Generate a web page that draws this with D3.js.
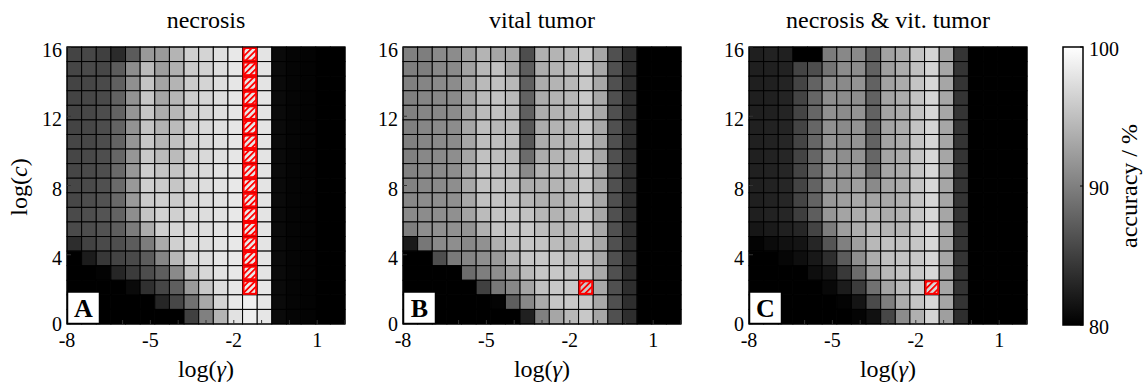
<!DOCTYPE html>
<html>
<head>
<meta charset="utf-8">
<script src="https://cdn.jsdelivr.net/npm/d3@7"></script>
<style>
  body { margin: 0; background: #fff; }
  svg, text { font-family: "Liberation Serif", "DejaVu Serif", "Times New Roman", serif; }
  text { fill: #000; }
</style>
</head>
<body>
<svg id="chart" width="1146" height="386" font-family="Liberation Serif, DejaVu Serif, serif"></svg>
<script>
// grid: 19 columns of log(gamma) x 19 rows of log(c), rows listed top (c=16) to bottom (c=0)
const gammaDomain = [-8, 2];
const cDomain = [0, 16];
const gammaTicks = [-8, -5, -2, 1];
const cTicks = [0, 4, 8, 12, 16];
const colorTicks = [80, 90, 100];
const panelTitles = ["necrosis", "vital tumor", "necrosis & vit. tumor"];
const panelLetters = ["A", "B", "C"];

// accuracy / %
const necrosisAcc = [
  [85.3, 85.6, 85.0, 83.4, 87.1, 92.0, 92.1, 94.1, 96.2, 96.6, 97.6, 98.2, 98.2, 97.9, 80.8, 80.4, 80.2, 80.0, 80.0],
  [85.5, 85.8, 85.6, 87.2, 91.1, 94.7, 92.4, 93.8, 95.9, 96.5, 97.3, 98.0, 98.0, 97.9, 80.8, 80.4, 80.2, 80.0, 80.0],
  [85.3, 85.5, 85.8, 87.5, 91.3, 95.4, 92.9, 94.1, 96.0, 96.6, 97.4, 98.0, 98.0, 97.9, 80.8, 80.4, 80.2, 80.0, 80.0],
  [85.3, 85.6, 85.8, 87.7, 91.5, 95.5, 93.0, 94.3, 96.1, 96.8, 97.4, 98.0, 98.0, 97.9, 80.8, 80.4, 80.2, 80.0, 80.0],
  [85.3, 85.6, 86.0, 87.8, 91.7, 95.5, 93.5, 94.4, 96.2, 96.8, 97.5, 98.0, 98.0, 97.9, 80.8, 80.4, 80.2, 80.0, 80.0],
  [85.3, 85.6, 86.0, 87.8, 91.5, 95.4, 94.0, 94.7, 96.3, 97.0, 97.6, 98.0, 98.0, 97.9, 80.8, 80.4, 80.2, 80.0, 80.0],
  [85.5, 85.6, 86.0, 87.8, 91.7, 95.7, 94.3, 95.1, 96.5, 97.0, 97.6, 98.0, 98.0, 97.9, 80.8, 80.4, 80.2, 80.0, 80.0],
  [85.5, 85.7, 86.1, 88.0, 91.8, 95.7, 94.7, 94.7, 96.5, 97.0, 97.6, 98.0, 98.0, 97.9, 80.8, 80.4, 80.2, 80.0, 80.0],
  [85.5, 85.8, 86.1, 88.2, 91.9, 96.1, 95.4, 95.4, 96.6, 97.1, 97.7, 98.0, 98.0, 97.9, 80.8, 80.4, 80.2, 80.0, 80.0],
  [85.6, 85.8, 86.3, 88.3, 92.0, 96.2, 95.9, 95.5, 96.8, 97.3, 97.7, 98.2, 98.2, 97.9, 80.8, 80.4, 80.2, 80.0, 80.0],
  [85.6, 86.0, 86.4, 88.2, 92.1, 95.9, 96.3, 95.9, 96.9, 97.3, 97.7, 98.2, 98.2, 97.9, 80.8, 80.4, 80.2, 80.0, 80.0],
  [85.8, 86.1, 86.6, 87.8, 91.1, 95.4, 96.5, 96.3, 97.1, 97.3, 97.7, 98.2, 98.2, 97.9, 80.8, 80.4, 80.2, 80.0, 80.0],
  [85.8, 86.0, 86.4, 87.4, 89.7, 93.5, 96.2, 96.8, 97.1, 97.4, 97.9, 98.2, 98.2, 97.9, 80.8, 80.4, 80.2, 80.0, 80.0],
  [83.5, 85.2, 85.8, 86.1, 87.2, 89.7, 93.3, 96.3, 97.1, 97.4, 97.9, 98.2, 98.2, 97.9, 80.8, 80.4, 80.2, 80.0, 80.0],
  [80.0, 82.2, 84.4, 85.3, 85.8, 87.2, 90.5, 94.4, 96.8, 97.4, 98.0, 98.2, 98.2, 97.9, 80.8, 80.4, 80.2, 80.0, 80.0],
  [80.0, 80.0, 80.2, 83.0, 84.6, 86.0, 87.4, 90.8, 95.1, 96.9, 97.7, 98.2, 98.2, 97.9, 80.8, 80.4, 80.2, 80.0, 80.0],
  [80.0, 80.0, 80.0, 80.0, 80.8, 83.8, 85.5, 87.4, 92.1, 95.7, 97.3, 98.0, 98.5, 98.0, 80.8, 80.4, 80.2, 80.0, 80.0],
  [80.0, 80.0, 80.0, 80.0, 80.0, 80.0, 83.0, 85.6, 88.8, 93.2, 96.6, 98.2, 98.8, 98.0, 80.8, 80.4, 80.2, 80.0, 80.0],
  [80.0, 80.0, 80.0, 80.0, 80.0, 80.0, 80.0, 80.0, 85.0, 90.0, 94.1, 97.7, 98.7, 98.0, 80.8, 80.4, 80.2, 80.0, 80.0]
];

// panel B
const vitalAcc = [
  [90.0, 89.9, 90.8, 91.0, 92.5, 94.1, 93.0, 93.2, 86.1, 93.8, 94.1, 94.4, 95.8, 93.0, 86.3, 83.6, 80.0, 80.0, 80.0],
  [89.9, 89.9, 90.7, 90.8, 92.7, 94.4, 95.1, 93.2, 87.4, 93.6, 94.1, 94.7, 95.7, 93.2, 86.3, 83.6, 80.0, 80.0, 80.0],
  [90.0, 90.4, 90.8, 91.0, 92.9, 94.6, 95.1, 94.4, 87.5, 93.6, 94.1, 94.4, 95.7, 93.2, 86.3, 83.6, 80.0, 80.0, 80.0],
  [90.0, 90.4, 90.7, 90.8, 92.9, 94.6, 95.2, 94.6, 87.7, 93.5, 94.0, 94.4, 95.7, 93.2, 86.3, 83.6, 80.0, 80.0, 80.0],
  [90.0, 90.5, 90.7, 91.0, 93.0, 94.7, 95.1, 94.7, 87.5, 93.5, 94.0, 94.4, 95.7, 93.2, 86.3, 83.6, 80.0, 80.0, 80.0],
  [90.0, 90.5, 90.8, 91.0, 93.0, 94.9, 94.4, 94.7, 86.9, 93.5, 94.0, 94.3, 95.7, 93.2, 86.3, 83.6, 80.0, 80.0, 80.0],
  [90.0, 90.5, 90.8, 91.0, 93.0, 94.9, 94.9, 94.7, 86.9, 93.6, 94.1, 94.4, 95.7, 93.2, 86.3, 83.6, 80.0, 80.0, 80.0],
  [90.0, 90.7, 90.8, 91.1, 93.0, 95.1, 94.9, 94.7, 88.5, 93.6, 94.1, 94.4, 95.7, 93.2, 86.3, 83.6, 80.0, 80.0, 80.0],
  [90.2, 90.7, 90.8, 91.1, 93.2, 95.2, 94.9, 94.9, 90.8, 94.0, 94.1, 94.4, 95.7, 93.2, 86.3, 83.6, 80.0, 80.0, 80.0],
  [90.2, 90.7, 90.8, 91.1, 93.2, 95.2, 95.1, 95.1, 93.5, 93.8, 94.1, 94.4, 95.7, 93.2, 86.3, 83.6, 80.0, 80.0, 80.0],
  [90.7, 91.0, 91.1, 91.3, 93.2, 95.1, 95.4, 95.4, 94.3, 93.8, 93.8, 94.4, 95.7, 93.2, 86.3, 83.6, 80.0, 80.0, 80.0],
  [90.8, 91.0, 91.1, 91.3, 92.9, 94.7, 95.4, 95.7, 95.2, 94.3, 94.0, 94.4, 95.7, 93.2, 86.3, 83.6, 80.0, 80.0, 80.0],
  [89.9, 91.1, 91.3, 91.4, 91.5, 93.8, 95.4, 95.5, 95.7, 94.9, 94.3, 94.4, 95.7, 93.2, 86.3, 83.6, 80.0, 80.0, 80.0],
  [82.0, 89.3, 90.8, 91.1, 90.7, 91.4, 93.8, 95.1, 95.5, 95.4, 94.7, 94.1, 95.5, 93.2, 86.3, 83.6, 80.0, 80.0, 80.0],
  [80.0, 80.0, 86.1, 89.6, 90.4, 91.1, 92.1, 94.4, 95.5, 95.7, 95.5, 94.9, 95.5, 93.2, 86.3, 83.6, 80.0, 80.0, 80.0],
  [80.0, 80.0, 80.0, 80.0, 88.5, 89.9, 91.1, 92.7, 94.6, 95.5, 95.7, 95.4, 95.5, 93.2, 86.3, 83.6, 80.0, 80.0, 80.0],
  [80.0, 80.0, 80.0, 80.0, 80.0, 85.0, 89.4, 90.7, 92.9, 95.1, 95.7, 95.8, 95.7, 93.2, 86.3, 83.6, 80.0, 80.0, 80.0],
  [80.0, 80.0, 80.0, 80.0, 80.0, 80.0, 80.3, 87.4, 90.7, 93.3, 95.5, 95.8, 95.7, 93.2, 86.3, 83.6, 80.0, 80.0, 80.0],
  [80.0, 80.0, 80.0, 80.0, 80.0, 80.0, 80.0, 80.0, 82.5, 90.0, 93.0, 94.4, 95.7, 93.0, 86.3, 83.6, 80.0, 80.0, 80.0]
];

// panel C
const bothAcc = [
  [82.4, 82.7, 82.5, 80.0, 80.0, 89.7, 90.7, 90.8, 87.5, 92.7, 93.5, 95.4, 96.6, 92.9, 84.1, 80.0, 80.0, 80.0, 80.0],
  [82.4, 82.5, 82.7, 85.3, 86.1, 89.1, 91.0, 91.0, 87.7, 92.5, 93.5, 95.1, 96.6, 93.0, 84.1, 80.0, 80.0, 80.0, 80.0],
  [82.4, 82.5, 82.8, 85.3, 87.8, 90.8, 90.8, 91.5, 87.7, 92.7, 93.5, 95.4, 96.8, 93.0, 84.1, 80.0, 80.0, 80.0, 80.0],
  [82.4, 82.5, 82.8, 85.3, 88.0, 91.1, 91.0, 91.1, 87.7, 92.9, 93.5, 95.4, 96.8, 93.0, 84.1, 80.0, 80.0, 80.0, 80.0],
  [82.4, 82.5, 82.8, 85.3, 88.0, 91.3, 91.0, 91.5, 87.7, 92.9, 93.5, 95.4, 96.8, 93.0, 84.1, 80.0, 80.0, 80.0, 80.0],
  [82.5, 82.7, 82.8, 85.3, 88.0, 91.3, 90.8, 91.5, 87.7, 92.9, 93.5, 95.4, 96.8, 93.0, 84.1, 80.0, 80.0, 80.0, 80.0],
  [82.5, 82.7, 83.0, 85.3, 88.0, 91.5, 91.0, 91.6, 87.8, 92.9, 93.5, 95.4, 96.8, 93.0, 84.1, 80.0, 80.0, 80.0, 80.0],
  [82.5, 82.7, 83.0, 85.3, 88.0, 91.6, 91.1, 91.6, 88.0, 92.9, 93.5, 95.4, 96.9, 93.0, 84.1, 80.0, 80.0, 80.0, 80.0],
  [82.5, 82.7, 83.0, 85.3, 88.0, 91.6, 91.3, 91.9, 88.5, 93.0, 93.5, 95.4, 96.9, 93.0, 84.1, 80.0, 80.0, 80.0, 80.0],
  [82.5, 82.7, 83.0, 85.3, 87.8, 91.6, 91.6, 92.5, 90.8, 93.0, 93.6, 95.4, 96.9, 93.0, 84.1, 80.0, 80.0, 80.0, 80.0],
  [82.4, 82.7, 83.0, 85.3, 87.8, 91.9, 92.5, 93.2, 92.9, 93.2, 93.8, 95.4, 96.9, 93.0, 84.1, 80.0, 80.0, 80.0, 80.0],
  [82.4, 82.7, 83.0, 84.9, 87.4, 91.8, 92.9, 93.5, 94.1, 93.5, 94.0, 95.5, 96.9, 93.0, 84.1, 80.0, 80.0, 80.0, 80.0],
  [81.7, 82.0, 82.5, 83.0, 85.3, 89.7, 92.4, 93.6, 94.4, 94.1, 94.3, 95.7, 96.9, 93.0, 84.1, 80.0, 80.0, 80.0, 80.0],
  [80.2, 80.9, 81.3, 81.6, 83.0, 86.7, 90.0, 92.5, 94.4, 95.1, 95.1, 95.5, 96.9, 93.0, 84.1, 80.0, 80.0, 80.0, 80.0],
  [80.0, 80.0, 80.5, 81.1, 81.9, 83.6, 87.2, 91.1, 93.6, 95.1, 95.4, 95.7, 96.9, 93.0, 84.1, 80.0, 80.0, 80.0, 80.0],
  [80.0, 80.0, 80.0, 80.0, 81.1, 81.7, 84.5, 88.5, 92.2, 94.4, 95.4, 95.8, 96.9, 93.0, 84.1, 80.0, 80.0, 80.0, 80.0],
  [80.0, 80.0, 80.0, 80.0, 80.0, 80.6, 82.2, 84.7, 88.9, 92.9, 94.7, 96.0, 96.9, 93.0, 84.1, 80.0, 80.0, 80.0, 80.0],
  [80.0, 80.0, 80.0, 80.0, 80.0, 80.0, 80.3, 81.6, 85.8, 89.9, 93.5, 95.4, 96.9, 93.0, 84.1, 80.0, 80.0, 80.0, 80.0],
  [80.0, 80.0, 80.0, 80.0, 80.0, 80.0, 80.0, 80.3, 81.3, 85.6, 91.0, 93.8, 96.6, 92.5, 83.6, 80.0, 80.0, 80.0, 80.0]
];

// best parameter cells [column, row from top], drawn hatched red
const necrosisBest = d3.range(0, 17).map(r => [12, r]);
const vitalBest = [[12, 16]];
const bothBest = [[12, 16]];

//Helpers
const translate = (x, y) => `translate(${x}, ${y})`;

const svg = d3.select("#chart");
const plotTop = 47, plotH = 277, plotW = 278;
const panelLefts = [67, 403, 749];
const datasets = [necrosisAcc, vitalAcc, bothAcc];
const bests = [necrosisBest, vitalBest, bothBest];

const grayScale = d3.scaleLinear().domain([80, 100]).range(["#000", "#fff"]).clamp(true);

// hatch pattern for the best cells: red stripes over the cell grey
const defs = svg.append("defs");
defs.append("pattern")
    .attr("id", "hatch")
    .attr("patternUnits", "userSpaceOnUse")
    .attr("width", 4.4)
    .attr("height", 4.4)
    .attr("patternTransform", "rotate(45)")
    .append("rect")
    .attr("width", 1.8)
    .attr("height", 4.4)
    .attr("fill", "#ff0000");

const grad = defs.append("linearGradient")
    .attr("id", "cbar")
    .attr("x1", 0).attr("y1", 1).attr("x2", 0).attr("y2", 0);
grad.append("stop").attr("offset", "0%").attr("stop-color", grayScale(80));
grad.append("stop").attr("offset", "100%").attr("stop-color", grayScale(100));

panelLefts.forEach((x0, p) => {
    const data = datasets[p];
    const nRows = data.length, nCols = data[0].length;

    const xBand = d3.scaleBand().domain(d3.range(nCols)).range([x0, x0 + plotW]);
    const yBand = d3.scaleBand().domain(d3.range(nRows)).range([plotTop, plotTop + plotH]);
    const xLin = d3.scaleLinear().domain(gammaDomain).range([x0, x0 + plotW]);
    const yLin = d3.scaleLinear().domain(cDomain).range([plotTop + plotH, plotTop]);

    const g = svg.append("g").attr("class", "panel");

    // cells
    const cells = data.flatMap((row, r) => row.map((v, c) => ({ r, c, v })));
    g.selectAll("rect.cell")
        .data(cells)
        .join("rect")
        .attr("class", "cell")
        .attr("x", d => xBand(d.c))
        .attr("y", d => yBand(d.r))
        .attr("width", xBand.bandwidth())
        .attr("height", yBand.bandwidth())
        .attr("fill", d => grayScale(d.v))
        .attr("stroke", "#000")
        .attr("stroke-width", 1);

    // best cells
    g.selectAll("rect.best")
        .data(bests[p])
        .join("rect")
        .attr("class", "best")
        .attr("x", d => xBand(d[0]) + 1)
        .attr("y", d => yBand(d[1]) + 1)
        .attr("width", xBand.bandwidth() - 2)
        .attr("height", yBand.bandwidth() - 2)
        .attr("fill", "url(#hatch)")
        .attr("stroke", "#ff0000")
        .attr("stroke-width", 2);

    // frame
    g.append("rect")
        .attr("x", x0).attr("y", plotTop)
        .attr("width", plotW).attr("height", plotH)
        .attr("fill", "none").attr("stroke", "#000").attr("stroke-width", 1);

    // x ticks every unit, inward
    const xMinor = d3.range(gammaDomain[0], gammaDomain[1] + 1);
    g.selectAll("line.xt")
        .data(xMinor)
        .join("line")
        .attr("class", "xt")
        .attr("x1", d => xLin(d)).attr("x2", d => xLin(d))
        .attr("y1", plotTop + plotH).attr("y2", plotTop + plotH - 4)
        .attr("stroke", "#333").attr("stroke-width", 1);

    g.selectAll("line.yt")
        .data(cTicks)
        .join("line")
        .attr("class", "yt")
        .attr("x1", x0).attr("x2", x0 + 4)
        .attr("y1", d => yLin(d)).attr("y2", d => yLin(d))
        .attr("stroke", "#333").attr("stroke-width", 1);

    // tick labels
    g.selectAll("text.xl")
        .data(gammaTicks)
        .join("text")
        .attr("class", "xl")
        .attr("x", d => xLin(d))
        .attr("y", plotTop + plotH + 23)
        .attr("text-anchor", "middle")
        .attr("font-size", 20)
        .text(d => d);

    g.selectAll("text.yl")
        .data(cTicks)
        .join("text")
        .attr("class", "yl")
        .attr("x", x0 - 5)
        .attr("y", d => yLin(d) + (d === 0 ? 0 : 3))
        .attr("text-anchor", "end")
        .attr("dominant-baseline", "central")
        .attr("font-size", 20)
        .text(d => d);

    // title
    g.append("text")
        .attr("x", x0 + plotW / 2)
        .attr("y", 28)
        .attr("text-anchor", "middle")
        .attr("font-size", 24)
        .text(panelTitles[p]);

    // x label
    const xl = g.append("text")
        .attr("x", x0 + plotW / 2)
        .attr("y", 377)
        .attr("text-anchor", "middle")
        .attr("font-size", 24);
    xl.append("tspan").text("log(");
    xl.append("tspan").attr("font-style", "italic").text("γ");
    xl.append("tspan").text(")");

    // letter box
    g.append("rect")
        .attr("x", x0 + 0.5).attr("y", plotTop + plotH - 32)
        .attr("width", 32).attr("height", 31.5)
        .attr("fill", "#fff").attr("stroke", "#000").attr("stroke-width", 1.5);
    g.append("text")
        .attr("x", x0 + 16.5).attr("y", plotTop + plotH - 7)
        .attr("text-anchor", "middle")
        .attr("font-size", 26)
        .attr("font-weight", "bold")
        .text(panelLetters[p]);
});

// y label on first panel
const yl = svg.append("text")
    .attr("transform", translate(27, 187) + " rotate(-90)")
    .attr("text-anchor", "middle")
    .attr("font-size", 24);
yl.append("tspan").text("log(");
yl.append("tspan").attr("font-style", "italic").text("c");
yl.append("tspan").text(")");

// Colorbar
const cbX = 1063, cbW = 20;
const cbScale = d3.scaleLinear().domain([80, 100]).range([plotTop + plotH + 1, plotTop]);
svg.append("rect")
    .attr("x", cbX).attr("y", plotTop)
    .attr("width", cbW).attr("height", plotH + 1)
    .attr("fill", "url(#cbar)")
    .attr("stroke", "#000").attr("stroke-width", 1.5);

svg.selectAll("line.ct")
    .data(colorTicks)
    .join("line")
    .attr("class", "ct")
    .attr("x1", cbX + cbW).attr("x2", cbX + cbW - 3)
    .attr("y1", d => cbScale(d)).attr("y2", d => cbScale(d))
    .attr("stroke", "#000");

svg.selectAll("text.cl")
    .data(colorTicks)
    .join("text")
    .attr("class", "cl")
    .attr("x", cbX + cbW + 6)
    .attr("y", d => cbScale(d) + 2)
    .attr("dominant-baseline", "central")
    .attr("font-size", 20)
    .text(d => d);

svg.append("text")
    .attr("transform", translate(1137, 186) + " rotate(-90)")
    .attr("text-anchor", "middle")
    .attr("font-size", 24)
    .text("accuracy / %");
</script>
</body>
</html>
